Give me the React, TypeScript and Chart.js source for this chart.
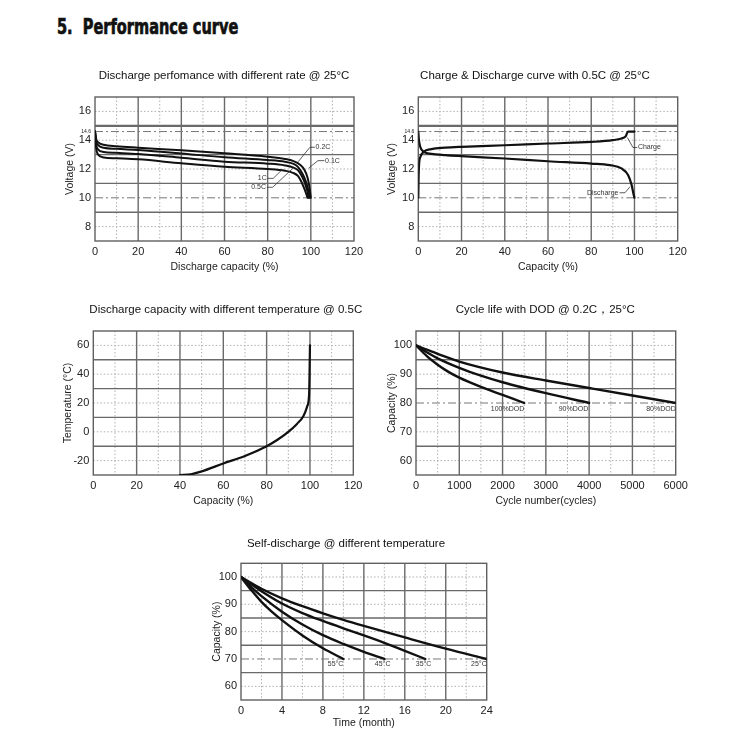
import React, { useEffect, useRef } from 'react';
import { Chart, registerables } from 'chart.js';

Chart.register(...registerables);

// ---------------- data ----------------
type Pt = [number, number];

// Panel 1: discharge at different rates (capacity %, voltage V)
const rate01C: Pt[] = [[0, 14.6], [0.5, 14.1], [1.5, 13.85], [4, 13.68], [10, 13.58], [20, 13.48], [40, 13.3], [60, 13.09], [80, 12.85], [88, 12.7], [92, 12.55], [95, 12.3], [97, 11.95], [98.5, 11.4], [99.4, 10.7], [100, 10.0]];
const rate02C: Pt[] = [[0, 14.6], [0.5, 13.95], [1.5, 13.65], [4, 13.48], [10, 13.4], [20, 13.32], [40, 13.08], [60, 12.81], [80, 12.62], [88, 12.5], [92, 12.35], [94, 12.15], [96, 11.7], [97.8, 11.1], [98.9, 10.5], [99.5, 10.0]];
const rate05C: Pt[] = [[0, 14.6], [0.5, 13.75], [1.5, 13.35], [4, 13.18], [10, 13.12], [20, 13.04], [40, 12.78], [60, 12.51], [80, 12.37], [88, 12.25], [92, 12.1], [94, 11.92], [96, 11.45], [97.4, 10.95], [98.4, 10.45], [99.0, 10.0]];
const rate1C: Pt[] = [[0, 14.6], [0.5, 13.5], [1.5, 13.0], [4, 12.8], [10, 12.74], [20, 12.67], [40, 12.4], [60, 12.16], [80, 12.0], [88, 11.88], [92, 11.72], [94, 11.52], [95.5, 11.15], [96.8, 10.7], [97.8, 10.3], [98.5, 10.0]];

// Panel 2: charge & discharge at 0.5C
const chargeCurve: Pt[] = [[0, 10], [0.15, 11.5], [0.4, 12.4], [1, 12.85], [2.5, 13.19], [6, 13.38], [12.5, 13.48], [20, 13.54], [40, 13.65], [60, 13.77], [80, 13.88], [90, 14.0], [94, 14.12], [96, 14.28], [97, 14.6], [100, 14.6]];
const dischargeCurve: Pt[] = [[0, 14.6], [0.3, 14.0], [0.9, 13.54], [2.5, 13.19], [6, 13.05], [12.5, 12.96], [20, 12.89], [40, 12.73], [60, 12.54], [80, 12.38], [88.7, 12.27], [94, 12.04], [97.1, 11.57], [98.7, 10.88], [99.5, 10.3], [100, 10]];

// Panel 3: capacity vs temperature
const tempCapacity: Pt[] = [[40, -30], [45, -29.5], [50, -27.5], [60, -22], [70, -16.8], [80, -10], [85, -5.5], [90, 0], [94, 5.5], [97, 11], [98.8, 18], [99.6, 26], [99.8, 40], [100, 60]];

// Panel 4: cycle life (cycles, capacity %)
const dod100: Pt[] = [[0, 100], [250, 96.3], [500, 93.3], [750, 90.8], [1000, 88.8], [1500, 85.6], [2000, 82.8], [2500, 80]];
const dod90: Pt[] = [[0, 100], [250, 97.6], [500, 95.5], [1000, 92.2], [1500, 89.5], [2000, 87.2], [3000, 83.4], [4000, 80]];
const dod80: Pt[] = [[0, 100], [250, 98.5], [500, 97.1], [1000, 94.4], [2000, 90.6], [3000, 87.8], [4000, 85.2], [5000, 82.6], [6000, 80]];

// Panel 5: self-discharge (months, capacity %)
const sd55: Pt[] = [[0, 100], [1, 95.2], [2, 90.9], [3, 87.3], [4, 84.2], [6, 78.6], [8, 73.9], [10, 70]];
const sd45: Pt[] = [[0, 100], [1, 96.3], [2, 93.0], [4, 87.3], [6, 82.6], [8, 78.7], [10, 75.5], [12, 72.6], [14, 70]];
const sd35: Pt[] = [[0, 100], [2, 94.8], [4, 90.3], [6, 86.8], [8, 83.9], [10, 81.2], [12, 78.6], [14, 75.9], [16, 73.0], [18, 70]];
const sd25: Pt[] = [[0, 100], [2, 95.7], [4, 92.2], [6, 89.3], [8, 86.7], [10, 84.3], [12, 82.1], [16, 77.9], [20, 73.8], [24, 70]];

// tick labels
const pctTicks = [0, 20, 40, 60, 80, 100, 120];
const voltTicks = [8, 10, 12, 14, 14.6, 16];
const tempTicks = [-20, 0, 20, 40, 60];
const cycleTicks = [0, 1000, 2000, 3000, 4000, 5000, 6000];
const capTicks = [60, 70, 80, 90, 100];
const monthTicks = [0, 4, 8, 12, 16, 20, 24];

// grid line values
const pctMajor = [20, 40, 60, 80, 100];
const pctMinor = [10, 30, 50, 70, 90, 110];
const voltMajor = [9, 11, 13];
const voltDouble = [15];
const voltMinor = [8, 12, 14, 16];
const voltLimits = [10, 14.6];
const tempMajor = [-10, 10, 30, 50];
const tempMinor = [-20, 0, 20, 40, 60];
const cycleMajor = [1000, 2000, 3000, 4000, 5000];
const cycleMinor = [500, 1500, 2500, 3500, 4500, 5500];
const capMajor = [65, 75, 85, 95];
const cycleCapMinor = [60, 70, 90, 100];
const cycleCapLimit = [80];
const monthMajor = [4, 8, 12, 16, 20];
const monthMinor = [2, 6, 10, 14, 18, 22];
const sdCapMinor = [60, 80, 90, 100];
const sdCapLimit = [70];

// ---------------- styling / layout ----------------
const FONT = '"Liberation Sans", Arial, Helvetica, sans-serif';
const TEXT = '#222';
const TICK_SIZE = 11;
const AXIS_TITLE_SIZE = 10.5;
const TITLE_SIZE = 11.5;
const NOTE_SIZE = 7;

type Kind = 'solid' | 'double' | 'dot' | 'dashdot';
type GridSpec = { axis: 'x' | 'y'; values: number[]; kind: Kind };
type Note = { text: string; at: Pt; align: CanvasTextAlign; leader?: Pt[] };
type Panel = {
  box: { left: number; top: number; width: number; height: number };
  plot: { L: number; T: number; R: number; B: number };
  title: string; titleAt: Pt;
  xTitle: string; xTitleY: number;
  yTitle: string; yTitleX: number;
  x: { min: number; max: number; ticks: number[] };
  y: { min: number; max: number; ticks: number[] };
  smallTick?: number;
  grid: GridSpec[];
  series: Pt[][];
  lineWidth: number;
  notes: Note[];
};

const PANELS: Panel[] = [
  {
    box: { left: 40, top: 60, width: 330, height: 220 },
    plot: { L: 95, T: 97, R: 354, B: 241 },
    title: 'Discharge perfomance with different rate @ 25°C', titleAt: [224, 75.7],
    xTitle: 'Discharge capacity (%)', xTitleY: 266.7,
    yTitle: 'Voltage (V)', yTitleX: 70,
    x: { min: 0, max: 120, ticks: pctTicks },
    y: { min: 7, max: 17, ticks: voltTicks },
    smallTick: 14.6,
    grid: [
      { axis: 'x', values: pctMinor, kind: 'dot' },
      { axis: 'y', values: voltMinor, kind: 'dot' },
      { axis: 'x', values: pctMajor, kind: 'solid' },
      { axis: 'y', values: voltMajor, kind: 'solid' },
      { axis: 'y', values: voltDouble, kind: 'double' },
      { axis: 'y', values: voltLimits, kind: 'dashdot' },
    ],
    series: [rate01C, rate02C, rate05C, rate1C],
    lineWidth: 2,
    notes: [
      { text: '0.2C', at: [102.2, 13.51], align: 'left', leader: [[101.9, 13.51], [99.6, 13.51], [94.1, 12.5]] },
      { text: '0.1C', at: [106.6, 12.58], align: 'left', leader: [[106.3, 12.58], [103.3, 12.58], [98.9, 12.05]] },
      { text: '1C', at: [79.6, 11.35], align: 'right', leader: [[79.9, 11.35], [82.6, 11.35], [86.5, 11.93]] },
      { text: '0.5C', at: [79.2, 10.73], align: 'right', leader: [[79.7, 10.73], [82.3, 10.73], [91.9, 12.08]] },
    ],
  },
  {
    box: { left: 375, top: 60, width: 330, height: 220 },
    plot: { L: 418.3, T: 97, R: 677.7, B: 241 },
    title: 'Charge & Discharge curve with 0.5C @ 25°C', titleAt: [535, 75.5],
    xTitle: 'Capacity (%)', xTitleY: 266.7,
    yTitle: 'Voltage (V)', yTitleX: 392,
    x: { min: 0, max: 120, ticks: pctTicks },
    y: { min: 7, max: 17, ticks: voltTicks },
    smallTick: 14.6,
    grid: [
      { axis: 'x', values: pctMinor, kind: 'dot' },
      { axis: 'y', values: voltMinor, kind: 'dot' },
      { axis: 'x', values: pctMajor, kind: 'solid' },
      { axis: 'y', values: voltMajor, kind: 'solid' },
      { axis: 'y', values: voltDouble, kind: 'double' },
      { axis: 'y', values: voltLimits, kind: 'dashdot' },
    ],
    series: [chargeCurve, dischargeCurve],
    lineWidth: 2.2,
    notes: [
      { text: 'Charge', at: [101.6, 13.49], align: 'left', leader: [[101.3, 13.49], [99.3, 13.49], [96.7, 14.19]] },
      { text: 'Discharge', at: [92.6, 10.35], align: 'right', leader: [[93.1, 10.35], [95.6, 10.35], [97.9, 10.76]] },
    ],
  },
  {
    box: { left: 40, top: 295, width: 330, height: 220 },
    plot: { L: 93.3, T: 331, R: 353.3, B: 475 },
    title: 'Discharge capacity with different temperature @ 0.5C', titleAt: [225.8, 310],
    xTitle: 'Capacity (%)', xTitleY: 500.7,
    yTitle: 'Temperature (°C)', yTitleX: 68.3,
    x: { min: 0, max: 120, ticks: pctTicks },
    y: { min: -30, max: 70, ticks: tempTicks },
    grid: [
      { axis: 'x', values: pctMinor, kind: 'dot' },
      { axis: 'y', values: tempMinor, kind: 'dot' },
      { axis: 'x', values: pctMajor, kind: 'solid' },
      { axis: 'y', values: tempMajor, kind: 'solid' },
    ],
    series: [tempCapacity],
    lineWidth: 2.2,
    notes: [],
  },
  {
    box: { left: 375, top: 295, width: 330, height: 220 },
    plot: { L: 416, T: 331, R: 675.7, B: 475 },
    title: 'Cycle life with DOD @ 0.2C，25°C', titleAt: [545.3, 310],
    xTitle: 'Cycle number(cycles)', xTitleY: 500.7,
    yTitle: 'Capacity (%)', yTitleX: 391.7,
    x: { min: 0, max: 6000, ticks: cycleTicks },
    y: { min: 55, max: 105, ticks: capTicks },
    grid: [
      { axis: 'x', values: cycleMinor, kind: 'dot' },
      { axis: 'y', values: cycleCapMinor, kind: 'dot' },
      { axis: 'x', values: cycleMajor, kind: 'solid' },
      { axis: 'y', values: capMajor, kind: 'solid' },
      { axis: 'y', values: cycleCapLimit, kind: 'dashdot' },
    ],
    series: [dod100, dod90, dod80],
    lineWidth: 2.4,
    notes: [
      { text: '100%DOD', at: [2500, 77.9], align: 'right' },
      { text: '90%DOD', at: [3980, 77.9], align: 'right' },
      { text: '80%DOD', at: [6000, 77.9], align: 'right' },
    ],
  },
  {
    box: { left: 195, top: 530, width: 325, height: 210 },
    plot: { L: 241, T: 563.3, R: 486.7, B: 700 },
    title: 'Self-discharge @ different temperature', titleAt: [346, 544],
    xTitle: 'Time (month)', xTitleY: 723.3,
    yTitle: 'Capacity (%)', yTitleX: 216.7,
    x: { min: 0, max: 24, ticks: monthTicks },
    y: { min: 55, max: 105, ticks: capTicks },
    grid: [
      { axis: 'x', values: monthMinor, kind: 'dot' },
      { axis: 'y', values: sdCapMinor, kind: 'dot' },
      { axis: 'x', values: monthMajor, kind: 'solid' },
      { axis: 'y', values: capMajor, kind: 'solid' },
      { axis: 'y', values: sdCapLimit, kind: 'dashdot' },
    ],
    series: [sd55, sd45, sd35, sd25],
    lineWidth: 2.4,
    notes: [
      { text: '55°C', at: [10, 68], align: 'right' },
      { text: '45°C', at: [14.6, 68], align: 'right' },
      { text: '35°C', at: [18.6, 68], align: 'right' },
      { text: '25°C', at: [24, 68], align: 'right' },
    ],
  },
];

function applyKind(ctx: CanvasRenderingContext2D, kind: Kind) {
  if (kind === 'solid') { ctx.strokeStyle = '#6a6a6a'; ctx.lineWidth = 1.4; ctx.setLineDash([]); }
  else if (kind === 'double') { ctx.strokeStyle = '#6a6a6a'; ctx.lineWidth = 2.2; ctx.setLineDash([]); }
  else if (kind === 'dot') { ctx.strokeStyle = '#b0b0b0'; ctx.lineWidth = 1; ctx.setLineDash([1.5, 2]); }
  else { ctx.strokeStyle = '#777'; ctx.lineWidth = 1; ctx.setLineDash([8, 3, 2, 3]); }
}

function decorPlugin(p: Panel) {
  return {
    id: 'panelDecor',
    beforeDatasetsDraw(chart: any) {
      const { ctx, chartArea: a, scales } = chart;
      ctx.save();
      for (const g of p.grid) {
        const sc = scales[g.axis];
        applyKind(ctx, g.kind);
        ctx.beginPath();
        for (const v of g.values) {
          const px = sc.getPixelForValue(v);
          if (g.axis === 'x') { ctx.moveTo(px, a.top); ctx.lineTo(px, a.bottom); }
          else { ctx.moveTo(a.left, px); ctx.lineTo(a.right, px); }
        }
        ctx.stroke();
      }
      ctx.setLineDash([]);
      ctx.strokeStyle = '#606060';
      ctx.lineWidth = 1.4;
      ctx.strokeRect(a.left, a.top, a.right - a.left, a.bottom - a.top);
      ctx.restore();
    },
    afterDatasetsDraw(chart: any) {
      const { ctx, scales } = chart;
      const xs = scales.x, ys = scales.y;
      ctx.save();
      ctx.font = `${NOTE_SIZE}px ${FONT}`;
      ctx.fillStyle = '#333';
      ctx.strokeStyle = '#333';
      ctx.lineWidth = 0.8;
      ctx.textBaseline = 'middle';
      for (const n of p.notes) {
        if (n.leader) {
          ctx.beginPath();
          n.leader.forEach(([lx, ly], i) => {
            const px = xs.getPixelForValue(lx), py = ys.getPixelForValue(ly);
            if (i === 0) ctx.moveTo(px, py); else ctx.lineTo(px, py);
          });
          ctx.stroke();
        }
        ctx.textAlign = n.align;
        ctx.fillText(n.text, xs.getPixelForValue(n.at[0]), ys.getPixelForValue(n.at[1]));
      }
      // panel title
      ctx.font = `${TITLE_SIZE}px ${FONT}`;
      ctx.fillStyle = '#111';
      ctx.textAlign = 'center';
      ctx.fillText(p.title, p.titleAt[0] - p.box.left, p.titleAt[1] - p.box.top);
      ctx.restore();
    },
  };
}

function PanelChart({ p }: { p: Panel }) {
  const ref = useRef<HTMLCanvasElement>(null);
  useEffect(() => {
    const { box, plot } = p;
    const lh = AXIS_TITLE_SIZE * 1.2;
    const chart = new Chart(ref.current as HTMLCanvasElement, {
      type: 'line',
      data: {
        datasets: p.series.map((s) => ({
          data: s.map(([x, y]) => ({ x, y })),
          borderColor: '#111',
          borderWidth: p.lineWidth,
          pointRadius: 0,
          fill: false,
          cubicInterpolationMode: 'monotone' as const,
          borderCapStyle: 'round' as const,
          borderJoinStyle: 'round' as const,
        })),
      },
      options: {
        responsive: false,
        animation: false,
        devicePixelRatio: 1,
        events: [],
        layout: { padding: { left: 0, top: plot.T - box.top, right: box.left + box.width - plot.R, bottom: 0 } },
        plugins: { legend: { display: false }, tooltip: { enabled: false }, title: { display: false } },
        scales: {
          x: {
            type: 'linear', min: p.x.min, max: p.x.max,
            grid: { display: false, drawTicks: false },
            border: { display: false },
            afterBuildTicks: (s: any) => { s.ticks = p.x.ticks.map((v) => ({ value: v })); },
            afterFit: (s: any) => { s.height = box.top + box.height - plot.B; },
            ticks: { autoSkip: false, maxRotation: 0, padding: 4, color: TEXT, font: { family: FONT, size: TICK_SIZE }, callback: (v: any) => String(v) },
            title: { display: true, text: p.xTitle, color: TEXT, font: { family: FONT, size: AXIS_TITLE_SIZE }, padding: { top: 0, bottom: box.top + box.height - p.xTitleY - lh / 2 } },
          },
          y: {
            type: 'linear', min: p.y.min, max: p.y.max,
            grid: { display: false, drawTicks: false },
            border: { display: false },
            afterBuildTicks: (s: any) => { s.ticks = p.y.ticks.map((v) => ({ value: v })); },
            afterFit: (s: any) => { s.width = plot.L - box.left; },
            ticks: {
              autoSkip: false, padding: 4, color: TEXT,
              font: (c: any) => ({ family: FONT, size: c.tick && c.tick.value === p.smallTick ? 5 : TICK_SIZE }),
              callback: (v: any) => String(v),
            },
            title: { display: true, text: p.yTitle, color: TEXT, font: { family: FONT, size: AXIS_TITLE_SIZE }, padding: { top: p.yTitleX - box.left - lh / 2, bottom: 0 } },
          },
        },
      } as any,
      plugins: [decorPlugin(p)],
    });
    return () => chart.destroy();
  }, [p]);
  return (
    <canvas
      ref={ref}
      width={p.box.width}
      height={p.box.height}
      style={{ position: 'absolute', left: p.box.left, top: p.box.top, width: p.box.width, height: p.box.height }}
    />
  );
}

export default function App() {
  return (
    <div style={{ position: 'absolute', left: 0, top: 0, width: 750, height: 750, background: '#fff', overflow: 'hidden' }}>
      <div
        style={{
          position: 'absolute', left: 57, top: 17, whiteSpace: 'pre',
          fontFamily: '"Liberation Sans Narrow", "DejaVu Sans Condensed", "Liberation Sans", sans-serif',
          fontWeight: 700, fontSize: 21, lineHeight: '21px', color: '#111',
          transform: 'scaleX(0.77)', transformOrigin: '0 0',
          WebkitTextStroke: '0.7px #111',
        }}
      >
        5.  Performance curve
      </div>
      {PANELS.map((p, i) => (
        <PanelChart key={i} p={p} />
      ))}
    </div>
  );
}
